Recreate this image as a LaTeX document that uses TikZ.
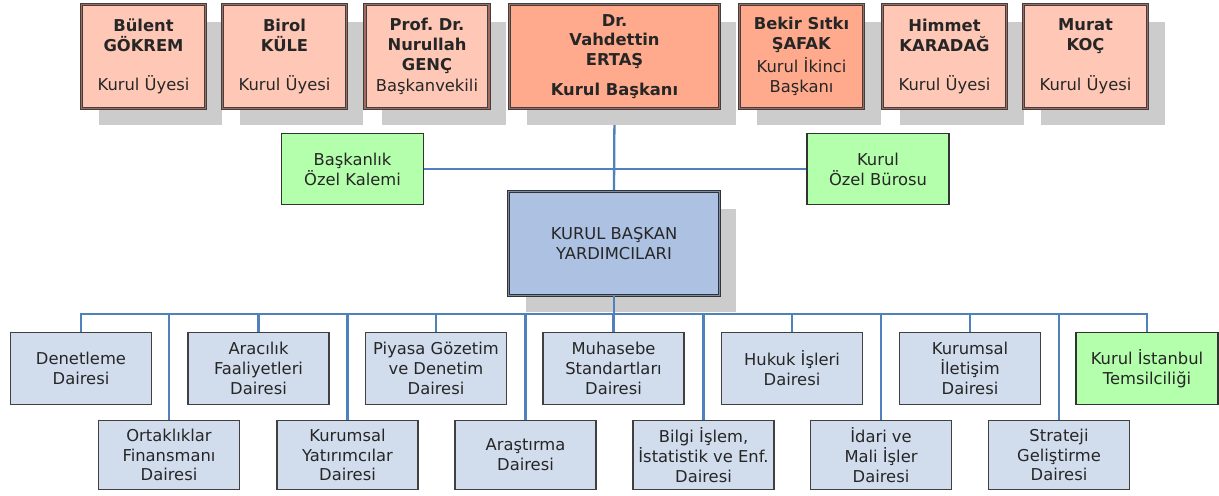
\documentclass[tikz,border=0pt]{standalone}
\usepackage{fontspec}
\setmainfont{DejaVu Sans}
\usetikzlibrary{shadows}
\pgfdeclarelayer{background}
\pgfsetlayers{background,main}
\definecolor{uyeFill}{RGB}{255,200,182}
\definecolor{baskanFill}{RGB}{255,170,140}
\definecolor{uyeBand}{RGB}{165,105,92}
\definecolor{yesilFill}{RGB}{180,255,172}
\definecolor{daireFill}{RGB}{209,220,237}
\definecolor{ybFill}{RGB}{173,194,226}
\definecolor{ybBand}{RGB}{120,140,172}
\definecolor{hat}{RGB}{79,129,189}

\begin{document}
\frenchspacing
\begin{tikzpicture}[x=0.02cm, y=-0.02cm]
  \tikzset{
    kutu/.style={inner sep=0pt, align=center, text=black!85, font=\fontsize{9.3}{11.3}\selectfont},
    golge/.style={drop shadow={shadow xshift=0.34cm, shadow yshift=-0.34cm, opacity=1, fill=black!20}},
    uye/.style={kutu, golge, fill=uyeFill, draw=black!75, line width=0.6pt, double=uyeBand, double distance=0.8pt, minimum width=2.48cm, minimum height=2.08cm},
    baskan/.style={uye, fill=baskanFill},
    yb/.style={kutu, golge, fill=ybFill, draw=black!80, line width=0.6pt, double=ybBand, double distance=0.8pt, minimum width=4.22cm, minimum height=2.08cm},
    yesil/.style={kutu, fill=yesilFill, draw=black!80, line width=0.9pt, minimum width=2.84cm, minimum height=1.42cm},
    daire/.style={kutu, fill=daireFill, draw=black!75, line width=1.1pt, minimum width=2.82cm, minimum height=1.44cm},
    daireb/.style={daire, minimum height=1.38cm},
    link/.style={draw=hat, line width=1.3pt}
  }
  \useasboundingbox (0,0) rectangle (1219,495);
  % kurul
  \node[uye] (gokrem) at (143.5,56.5) {\textbf{Bülent}\\\textbf{GÖKREM}\\[11.3pt]Kurul Üyesi};
  \node[uye] (kule) at (284.5,56.5) {\textbf{Birol}\\\textbf{KÜLE}\\[11.3pt]Kurul Üyesi};
  \node[uye] (genc) at (427,56.5) {\textbf{Prof. Dr.}\\\textbf{Nurullah}\\\textbf{GENÇ}\\[1pt]Başkanvekili};
  \node[baskan, minimum width=4.2cm] (ertas) at (614.5,56.5) {\textbf{Dr.}\\\textbf{Vahdettin}\\\textbf{ERTAŞ}\\[5.7pt]\textbf{Kurul Başkanı}};
  \node[baskan] (safak) at (801.5,56.5) {\textbf{Bekir Sıtkı}\\\textbf{ŞAFAK}\\[2pt]Kurul İkinci\\Başkanı};
  \node[uye] (karadag) at (944.5,56.5) {\textbf{Himmet}\\\textbf{KARADAĞ}\\[11.3pt]Kurul Üyesi};
  \node[uye] (koc) at (1085.5,56.5) {\textbf{Murat}\\\textbf{KOÇ}\\[11.3pt]Kurul Üyesi};
  % özel birimler
  \node[yesil] (kalem) at (352.5,169) {Başkanlık\\Özel Kalemi};
  \node[yesil] (buro) at (878,169) {Kurul\\Özel Bürosu};
  \node[yb] (yard) at (614,243.5) {KURUL BAŞKAN\\YARDIMCILARI};
  % daireler
  \node[daire] (denetleme) at (81,368.5) {Denetleme\\Dairesi};
  \node[daire] (aracilik) at (258.5,368.5) {Aracılık\\Faaliyetleri\\Dairesi};
  \node[daire] (piyasa) at (436,368.5) {Piyasa Gözetim\\ve Denetim\\Dairesi};
  \node[daire] (muhasebe) at (613.5,368.5) {Muhasebe\\Standartları\\Dairesi};
  \node[daire] (hukuk) at (792,368.5) {Hukuk İşleri\\Dairesi};
  \node[daire] (iletisim) at (970,368.5) {Kurumsal\\İletişim\\Dairesi};
  \node[yesil, minimum height=1.44cm] (temsil) at (1147,368.5) {Kurul İstanbul\\Temsilciliği};
  \node[daireb] (ortak) at (169,455) {Ortaklıklar\\Finansmanı\\Dairesi};
  \node[daireb] (yatirimci) at (347.5,455) {Kurumsal\\Yatırımcılar\\Dairesi};
  \node[daireb] (arastirma) at (525.5,455) {Araştırma\\Dairesi};
  \node[daireb] (bilgi) at (703.5,455) {Bilgi İşlem,\\İstatistik ve Enf.\\Dairesi};
  \node[daireb] (idari) at (881,455) {İdari ve\\Mali İşler\\Dairesi};
  \node[daireb] (strateji) at (1059,455) {Strateji\\Geliştirme\\Dairesi};
  % bağlantılar
  \begin{pgfonlayer}{background}
    \draw[link] (ertas.south) -- (yard.north);
  \end{pgfonlayer}
  \draw[link] (kalem.east) -- (buro.west);
  \coordinate (bus) at (0,314);
  \draw[link] (yard.south) -- (yard.south |- bus);
  \draw[link] (denetleme.north) -- (denetleme.north |- bus) -- (temsil.north |- bus) -- (temsil.north);
  \draw[link] (aracilik.north) -- (aracilik.north |- bus);
  \draw[link] (piyasa.north) -- (piyasa.north |- bus);
  \draw[link] (muhasebe.north) -- (muhasebe.north |- bus);
  \draw[link] (hukuk.north) -- (hukuk.north |- bus);
  \draw[link] (iletisim.north) -- (iletisim.north |- bus);
  \draw[link] (ortak.north) -- (ortak.north |- bus);
  \draw[link] (yatirimci.north) -- (yatirimci.north |- bus);
  \draw[link] (arastirma.north) -- (arastirma.north |- bus);
  \draw[link] (bilgi.north) -- (bilgi.north |- bus);
  \draw[link] (idari.north) -- (idari.north |- bus);
  \draw[link] (strateji.north) -- (strateji.north |- bus);
\end{tikzpicture}
\end{document}
